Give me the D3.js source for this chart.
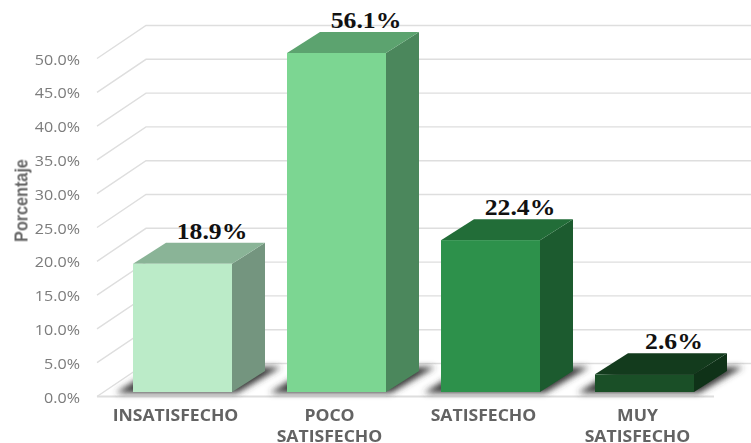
<!DOCTYPE html>
<html><head><meta charset="utf-8">
<script src="https://cdn.jsdelivr.net/npm/d3@7/dist/d3.min.js"></script>
<style>html,body{margin:0;padding:0;background:#fff}svg{display:block}</style>
</head><body><svg id="c" width="751" height="443"></svg>
<script>
const categories = [["INSATISFECHO"],["POCO","SATISFECHO"],["SATISFECHO"],["MUY","SATISFECHO"]];
const values = [18.9,56.1,22.4,2.6];
const valueLabels = ["18.9%","56.1%","22.4%","2.6%"];
const ticks = [0,5,10,15,20,25,30,35,40,45,50];
const frontColors = ["#bbebc8","#7cd692","#2d914b","#1a4f27"];
const topColors   = ["#8ab497","#5ca36f","#226d38","#133b1d"];
const sideColors  = ["#74957f","#4b875c","#1c5b2f","#0f3218"];

const svg = d3.select("#c");
const defs = svg.append("defs");
defs.append("filter").attr("id","shadow").attr("x","-20%").attr("y","-40%").attr("width","140%").attr("height","180%")
  .append("feGaussianBlur").attr("stdDeviation",3);
defs.append("filter").attr("id","soft").attr("x","-5%").attr("y","-20%").attr("width","110%").attr("height","140%")
  .append("feGaussianBlur").attr("stdDeviation",0.35);

const yAxis = d3.scaleLinear().domain([0,50]).range([396.5,58.5]);
const yBar  = d3.scaleLinear().domain([0,50]).range([392,53]).clamp(true);
const x = d3.scaleBand().domain(d3.range(values.length)).range([105.5,721.5]).paddingInner(55/154).paddingOuter(27.5/154);
const wallDx = 49, wallDy = -33, wallRight = 751, floorRight = 714;
const depthDx = 33, depthDy = -21;

// grid
const grid = svg.append("g").attr("fill","none").attr("stroke","#dedede").attr("stroke-width",1.4);
ticks.forEach(t=>{
  const y=yAxis(t), xf=97;
  grid.append("path").attr("d",d3.line()([[xf,y],[xf+wallDx,y+wallDy],[wallRight,y+wallDy]]));
});
grid.append("line").attr("x1",97).attr("x2",floorRight).attr("y1",yAxis(0)).attr("y2",yAxis(0)).attr("stroke-width",1.8);

// tick labels
svg.append("g").selectAll("text").data(ticks).join("text")
  .attr("transform",d=>`translate(80,${yAxis(d)+6}) scale(1.15,1)`).attr("text-anchor","end")
  .attr("font-family","'Open Sans',sans-serif").attr("font-size",14).attr("fill","#7b7b7b")
  .attr("filter","url(#soft)")
  .text(d=>d3.format(".1f")(d)+"%");

// axis title
svg.append("text").attr("transform","translate(27.5,200.5) rotate(-90) scale(0.9,1)").attr("text-anchor","middle")
  .attr("font-family","'Liberation Sans Narrow','Liberation Sans',sans-serif").attr("font-weight","bold")
  .attr("font-size",18).attr("fill","#666").attr("filter","url(#soft)").text("Porcentaje");

// shadows
svg.append("g").attr("filter","url(#shadow)").selectAll("path").data(values).join("path")
  .attr("fill","#3a3a3a")
  .attr("d",(d,i)=>{
    const l=x(i), r=l+x.bandwidth(), b=yBar(0);
    return d3.line()([[l-17,b+1],[r+5,b+1],[r+depthDx+16,b+depthDy-4],[r+depthDx,b+depthDy-4],[l+24,b+depthDy-4]])+"Z";
  });

// bars
const bars = svg.append("g").selectAll("g").data(values).join("g");
bars.append("path").attr("fill",(d,i)=>sideColors[i]).attr("d",(d,i)=>{
  const r=x(i)+x.bandwidth(), t=yBar(d), b=yBar(0);
  return d3.line()([[r,t],[r+depthDx,t+depthDy],[r+depthDx,b+depthDy],[r,b]])+"Z";
});
bars.append("path").attr("fill",(d,i)=>topColors[i]).attr("d",(d,i)=>{
  const l=x(i), r=l+x.bandwidth(), t=yBar(d);
  return d3.line()([[l,t],[l+depthDx,t+depthDy],[r+depthDx,t+depthDy],[r,t]])+"Z";
});
bars.append("rect").attr("x",(d,i)=>x(i)).attr("width",x.bandwidth()).attr("y",d=>yBar(d)).attr("height",d=>yBar(0)-yBar(d)).attr("fill",(d,i)=>frontColors[i]);

// value labels
svg.append("g").selectAll("text").data(values).join("text")
  .attr("transform",(d,i)=>`translate(${x(i)+x.bandwidth()/2+29.5},${yBar(d)-25}) scale(1.07,1)`).attr("text-anchor","middle")
  .attr("font-family","'Liberation Serif',serif").attr("font-weight","bold").attr("font-size",24).attr("fill","#111")
  .text((d,i)=>valueLabels[i]);

// category labels
const cat = svg.append("g").selectAll("g").data(categories).join("g");
cat.selectAll("text").data((d,i)=>d.map(s=>({s,i}))).join("text")
  .attr("transform",(d,j)=>`translate(${x(d.i)+x.bandwidth()/2-7},${420.5+j*21}) scale(1.1,1)`)
  .attr("text-anchor","middle").attr("font-family","'Open Sans',sans-serif").attr("font-weight","bold")
  .attr("font-size",16).attr("fill","#636363").attr("filter","url(#soft)").text(d=>d.s);
</script></body></html>
